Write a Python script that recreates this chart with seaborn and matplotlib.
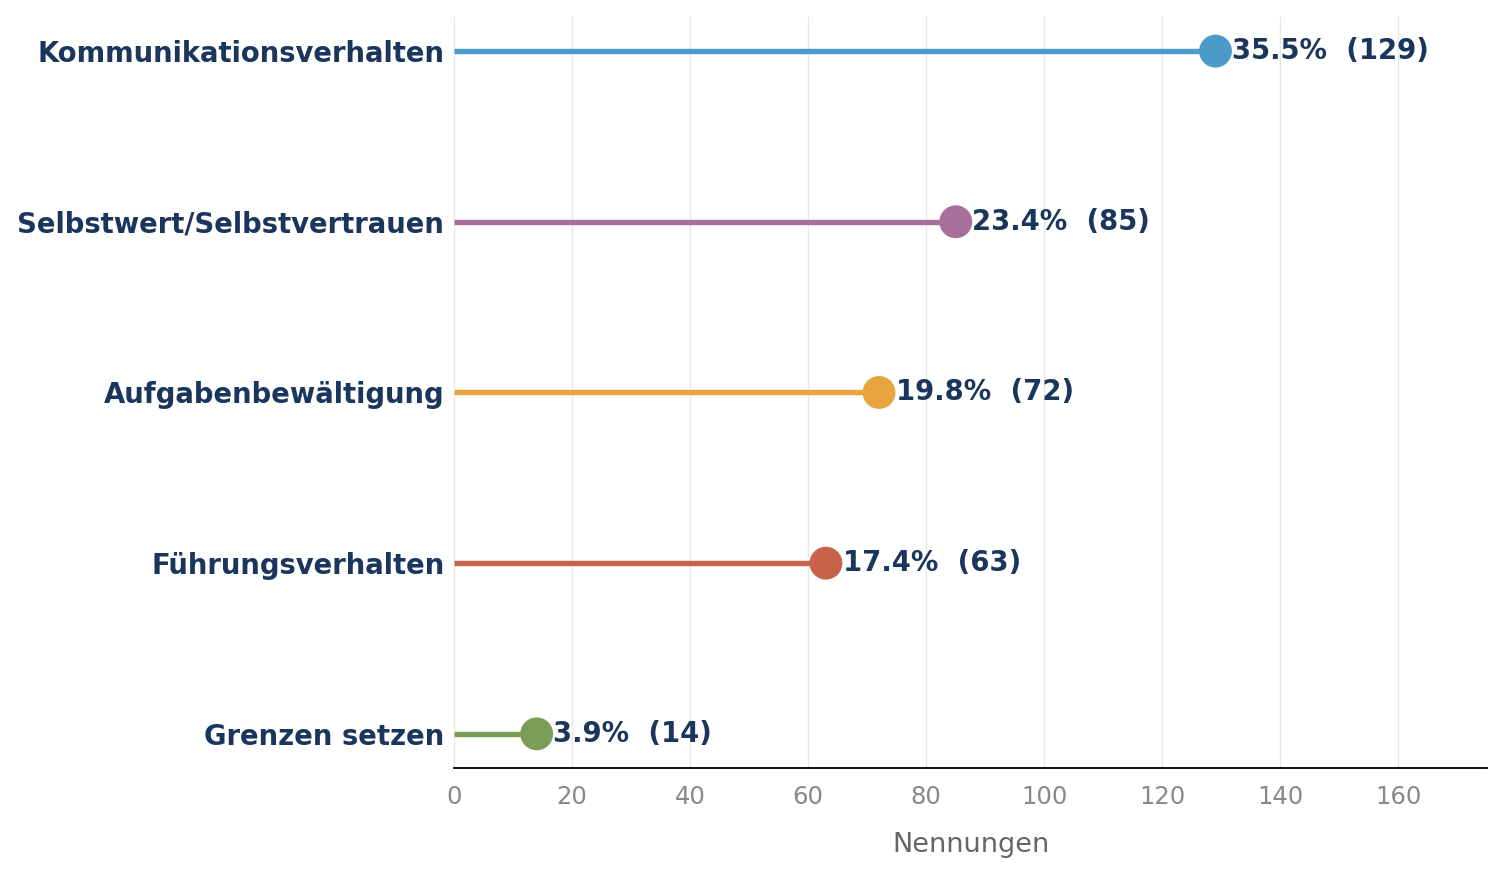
import pandas as pd
import matplotlib.pyplot as plt
import seaborn as sns

categories = ['Kommunikationsverhalten', 'Selbstwert/Selbstvertrauen', 'Aufgabenbewältigung',
              'Führungsverhalten', 'Grenzen setzen']
counts = [129, 85, 72, 63, 14]
percent = [35.5, 23.4, 19.8, 17.4, 3.9]
colors = ['#4A9BC7', '#A86F9B', '#E8A53D', '#C8634B', '#7A9E57']
navy = '#1B365D'

df = pd.DataFrame({'Kategorie': categories, 'Nennungen': counts, 'Prozent': percent})

sns.set_style('white')
plt.rcParams['font.family'] = ['DejaVu Sans']

fig = plt.figure(figsize=(15.04, 8.75), dpi=100)
ax = fig.add_axes([0.3019, 0.1223, 0.6868, 0.8583])

ypos = list(range(len(df)))
ax.hlines(ypos, 0, df['Nennungen'], colors=colors, linewidth=3.9, zorder=2)
sns.scatterplot(x=df['Nennungen'], y=ypos, hue=df['Kategorie'], palette=colors,
                s=560, edgecolor='none', legend=False, ax=ax, zorder=3)

for y, (n, p) in enumerate(zip(df['Nennungen'], df['Prozent'])):
    ax.annotate(f'{p:.1f}%  ({n})', (n, y), xytext=(12, 0), textcoords='offset points',
                va='center', ha='left', fontsize=19.8, fontweight='bold', color=navy)

ax.set_xlim(0, 175)
ax.set_ylim(4.2, -0.2)
ax.set_yticks(ypos)
ax.set_yticklabels(categories, fontsize=19.8, fontweight='bold', color=navy)
ax.set_xticks(range(0, 161, 20))
ax.tick_params(axis='x', colors='#888888', labelsize=17.5, length=6, width=1.2, pad=6)
ax.tick_params(axis='y', length=0, pad=7)
ax.set_xlabel('Nennungen', fontsize=19.5, color='#666666', labelpad=17)
ax.set_ylabel('')
ax.xaxis.grid(True, color='#e8e8e8', linewidth=1)
ax.set_axisbelow(True)
for s in ['top', 'right', 'left']:
    ax.spines[s].set_visible(False)
ax.spines['bottom'].set_color('black')
ax.spines['bottom'].set_linewidth(1.3)

fig.savefig('out.png', dpi=100)
